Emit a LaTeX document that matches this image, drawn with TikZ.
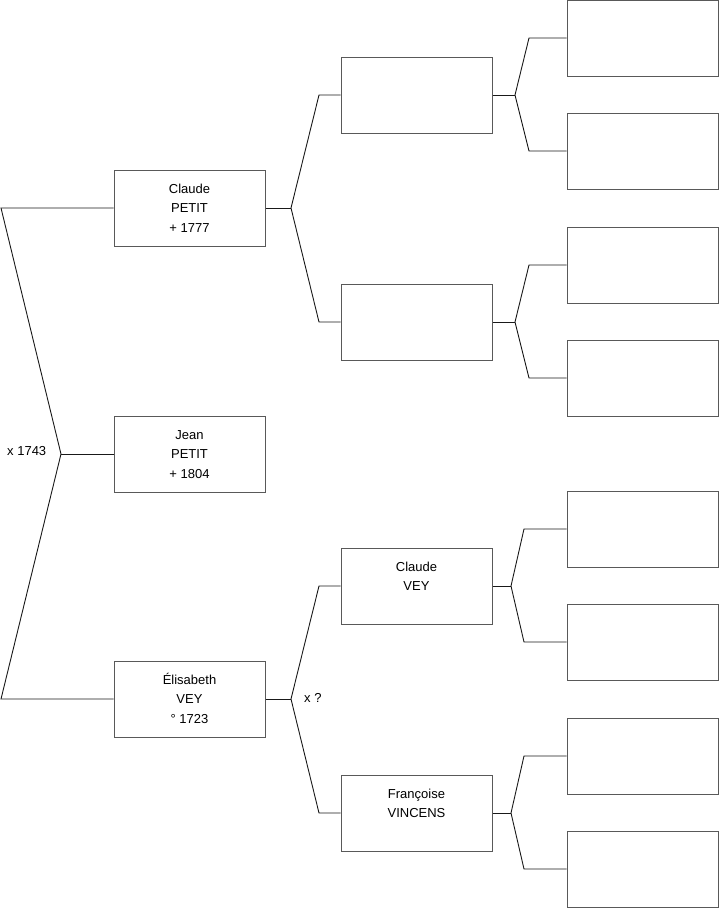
\documentclass[tikz,border=0pt]{standalone}
\usepackage{fontspec}
\setmainfont{Liberation Sans}
\begin{document}
\begin{tikzpicture}[x=1pt,y=-1pt,
  pbox/.style={draw=black!65,line width=1pt,minimum width=151pt,minimum height=76pt,inner sep=0pt,fill=white},
  ptext/.style={anchor=base,align=center,inner sep=0pt,font=\fontsize{13}{19.5}\selectfont},
  lbl/.style={anchor=base west,inner sep=0pt,font=\fontsize{13}{19.5}\selectfont},
  conn/.style={draw=black!90,line width=0.9pt}]
\useasboundingbox (0,0) rectangle (719,908);
% level 1
\node[pbox] (c1) at (189.5,208) {};
\node[pbox] (j0) at (189.5,454) {};
\node[pbox] (e1) at (189.5,699) {};
% level 2
\node[pbox] (p1) at (416.5,95) {};
\node[pbox] (p2) at (416.5,322) {};
\node[pbox] (p3) at (416.5,586) {};
\node[pbox] (p4) at (416.5,813) {};
% level 3
\node[pbox] (q1) at (642.5,38) {};
\node[pbox] (q2) at (642.5,151) {};
\node[pbox] (q3) at (642.5,265) {};
\node[pbox] (q4) at (642.5,378) {};
\node[pbox] (q5) at (642.5,529) {};
\node[pbox] (q6) at (642.5,642) {};
\node[pbox] (q7) at (642.5,756) {};
\node[pbox] (q8) at (642.5,869) {};
% texts (base anchor = baseline of last line)
\node[ptext] (tc1) at (189.5,232) {Claude\\PETIT\\+ 1777};
\node[ptext] (tj0) at (189.5,478) {Jean\\PETIT\\+ 1804};
\node[ptext] (te1) at (189.5,723) {Élisabeth\\VEY\\° 1723};
\node[ptext] (tp3) at (416.5,590.5) {Claude\\VEY};
\node[ptext] (tp4) at (416.5,817.5) {Françoise\\VINCENS};
\node[lbl] (m1) at (7,455) {x 1743};
\node[lbl] (m2) at (304,702) {x ?};
% junction coordinates
\coordinate (L1) at (1,208);
\coordinate (L2) at (61,454);
\coordinate (L3) at (1,699);
\coordinate (J1) at (291,208);
\coordinate (A1) at (319,95);
\coordinate (A2) at (319,322);
\coordinate (J2) at (291,699);
\coordinate (A3) at (319,586);
\coordinate (A4) at (319,813);
\coordinate (K1) at (515,95);
\coordinate (B1) at (529,38);
\coordinate (B2) at (529,151);
\coordinate (K2) at (515,322);
\coordinate (B3) at (529,265);
\coordinate (B4) at (529,378);
\coordinate (K3) at (511,586);
\coordinate (B5) at (524,529);
\coordinate (B6) at (524,642);
\coordinate (K4) at (511,813);
\coordinate (B7) at (524,756);
\coordinate (B8) at (524,869);
% connectors
\draw[conn] (c1.west) -- (L1) -- (L2) -- (L3) -- (e1.west);
\draw[conn] (L2) -- (j0.west);
\draw[conn] (c1.east) -- (J1);
\draw[conn] (p1.west) -- (A1) -- (J1) -- (A2) -- (p2.west);
\draw[conn] (e1.east) -- (J2);
\draw[conn] (p3.west) -- (A3) -- (J2) -- (A4) -- (p4.west);
\draw[conn] (p1.east) -- (K1);
\draw[conn] (q1.west) -- (B1) -- (K1) -- (B2) -- (q2.west);
\draw[conn] (p2.east) -- (K2);
\draw[conn] (q3.west) -- (B3) -- (K2) -- (B4) -- (q4.west);
\draw[conn] (p3.east) -- (K3);
\draw[conn] (q5.west) -- (B5) -- (K3) -- (B6) -- (q6.west);
\draw[conn] (p4.east) -- (K4);
\draw[conn] (q7.west) -- (B7) -- (K4) -- (B8) -- (q8.west);
\end{tikzpicture}
\end{document}
